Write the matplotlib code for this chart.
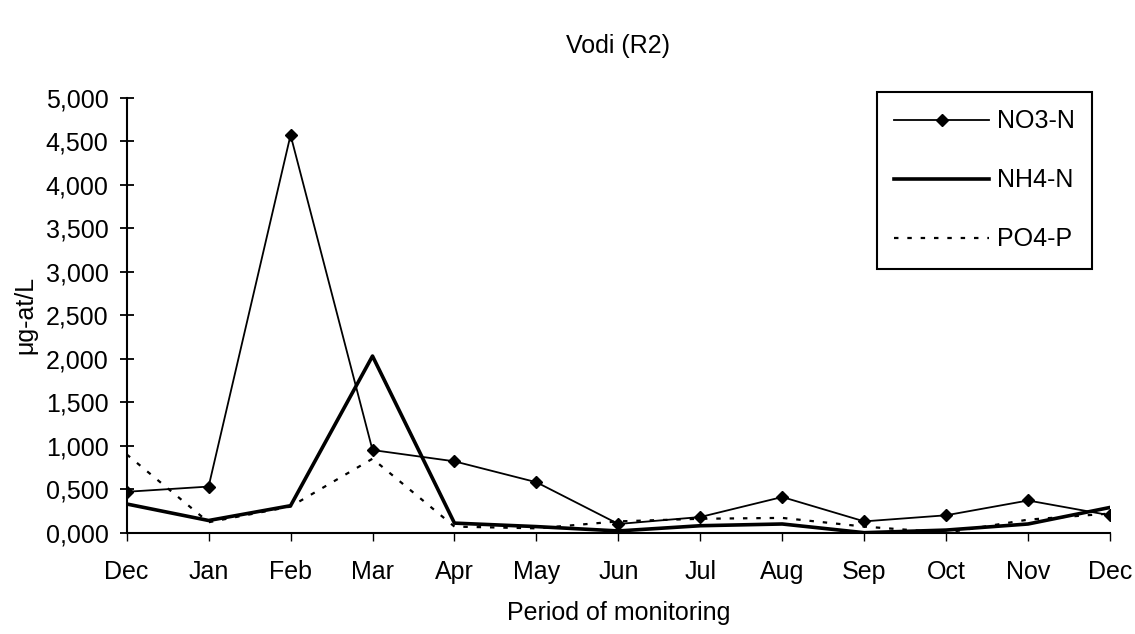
import matplotlib.pyplot as plt
from matplotlib.ticker import FuncFormatter, MultipleLocator
from matplotlib.lines import Line2D

plt.rcParams['font.family'] = ['Liberation Sans', 'DejaVu Sans']

meses = ['Dec', 'Jan', 'Feb', 'Mar', 'Apr', 'May', 'Jun',
         'Jul', 'Aug', 'Sep', 'Oct', 'Nov', 'Dec']
no3_n = [0.47, 0.53, 4.57, 0.95, 0.82, 0.58, 0.10, 0.18, 0.41, 0.13, 0.20, 0.37, 0.20]
nh4_n = [0.33, 0.14, 0.31, 2.03, 0.11, 0.07, 0.02, 0.08, 0.10, 0.00, 0.03, 0.10, 0.29]
po4_p = [0.90, 0.12, 0.30, 0.85, 0.07, 0.05, 0.13, 0.16, 0.17, 0.07, 0.00, 0.15, 0.22]

x = list(range(len(meses)))

fig = plt.figure(figsize=(11.35, 6.34), dpi=100)
ax = fig.add_axes([0.1116, 0.1598, 0.8664, 0.6862])

ax.plot(x, no3_n, color='black', linewidth=1.3, marker='D', markersize=6,
        label='NO3-N')
ax.plot(x, nh4_n, color='black', linewidth=2.6, label='NH4-N')
ax.plot(x, po4_p, color='black', linewidth=1.6, linestyle=(0, (2, 4)),
        label='PO4-P')

ax.set_xlim(0, 12)
ax.set_ylim(0, 5)
ax.set_xticks(x)
ax.set_xticklabels(meses)
ax.yaxis.set_major_locator(MultipleLocator(0.5))
ax.yaxis.set_major_formatter(FuncFormatter(lambda v, p: f'{v:.3f}'.replace('.', ',')))

for lado in ['top', 'right']:
    ax.spines[lado].set_visible(False)
ax.spines['left'].set_linewidth(1.5)
ax.spines['bottom'].set_linewidth(1.5)
ax.tick_params(axis='y', direction='inout', length=10, width=1.3, labelsize=18, pad=8)
ax.tick_params(axis='x', direction='out', length=6, width=1.0, labelsize=18, pad=14)

ax.set_title('Vodi (R2)', fontsize=18, pad=32)
ax.set_xlabel('Period of monitoring', fontsize=18, labelpad=12)
ax.set_ylabel('μg-at/L', fontsize=18, labelpad=6)

manejadores = [
    Line2D([], [], color='black', linewidth=1.3, marker='D', markersize=6, markevery=[1]),
    Line2D([], [], color='black', linewidth=2.6),
    Line2D([], [], color='black', linewidth=1.6, linestyle=(0, (2, 4))),
]
leg = ax.legend(manejadores, ['NO3-N', 'NH4-N', 'PO4-P'],
                loc='upper left', bbox_to_anchor=(0.763, 1.013),
                fontsize=18, frameon=True, fancybox=False, framealpha=1,
                handlelength=3.8, labelspacing=1.4, borderpad=0.7,
                handletextpad=0.3, borderaxespad=0)
leg.get_frame().set_edgecolor('black')
leg.get_frame().set_linewidth(1.5)

fig.savefig('out.png', dpi=100)
